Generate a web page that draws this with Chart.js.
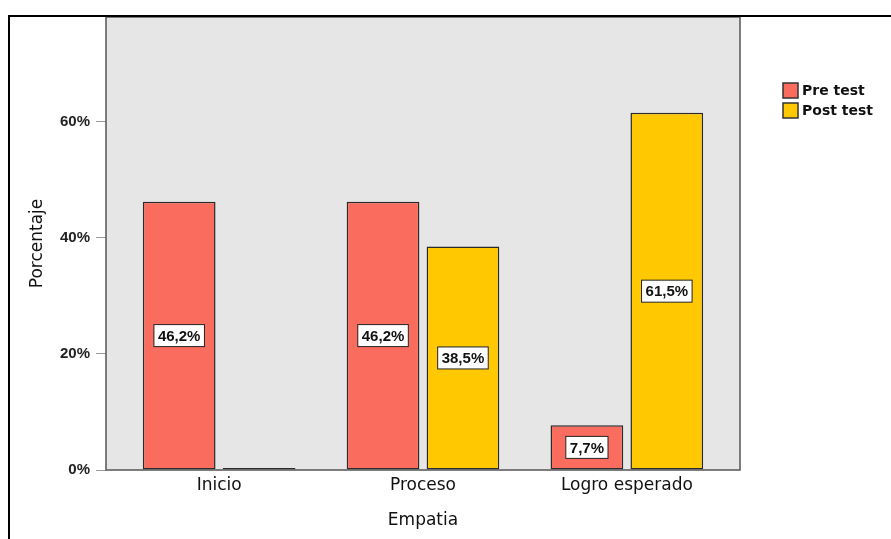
<!DOCTYPE html>
<html>
<head>
<meta charset="utf-8">
<script src="https://cdn.jsdelivr.net/npm/chart.js@4"></script>
<style>
  body { margin: 0; background: #fff; }
  #wrap { width: 891px; height: 539px; }
</style>
</head>
<body>
<div id="wrap"><canvas id="empatiaChart" width="891" height="539"></canvas></div>
<script>
const categories = ['Inicio', 'Proceso', 'Logro esperado'];
const preTest = [46.2, 46.2, 7.7];
const postTest = [0, 38.5, 61.5];
const yTicks = [0, 20, 40, 60];

const preColor = '#fa6c5e';
const postColor = '#ffc800';
const sans = '"DejaVu Sans", Verdana, sans-serif';
const arial = '"Liberation Sans", Arial, sans-serif';

const toPoints = arr => arr.map((v, i) => ({ x: i, y: v }));

// outer frame, grey plot box, value labels and legend
const decor = {
    id: 'decor',
    beforeDatasetsDraw(chart) {
        const { ctx, chartArea: a } = chart;
        ctx.save();
        ctx.fillStyle = '#e6e6e6';
        ctx.fillRect(a.left, a.top, a.right - a.left, a.bottom - a.top);
        ctx.restore();
    },
    afterDraw(chart) {
        const { ctx, chartArea: a } = chart;
        ctx.save();
        // plot border
        ctx.strokeStyle = '#555';
        ctx.lineWidth = 1.5;
        ctx.strokeRect(a.left, a.top, a.right - a.left, a.bottom - a.top);
        // outer frame (cropped)
        ctx.strokeStyle = '#000';
        ctx.lineWidth = 2;
        ctx.beginPath();
        ctx.moveTo(9, 539);
        ctx.lineTo(9, 16);
        ctx.lineTo(891, 16);
        ctx.stroke();

        // value labels
        ctx.font = 'bold 15px ' + arial;
        ctx.textAlign = 'center';
        ctx.textBaseline = 'middle';
        chart.data.datasets.forEach((ds, di) => {
            chart.getDatasetMeta(di).data.forEach((bar, i) => {
                const v = ds.data[i].y;
                if (!v) return;
                const txt = v.toFixed(1).replace('.', ',') + '%';
                const cy = (bar.y + bar.base) / 2;
                const w = ctx.measureText(txt).width + 8;
                const h = 22;
                ctx.fillStyle = '#fff';
                ctx.fillRect(bar.x - w / 2, cy - h / 2, w, h);
                ctx.strokeStyle = '#222';
                ctx.lineWidth = 1;
                ctx.strokeRect(bar.x - w / 2, cy - h / 2, w, h);
                ctx.fillStyle = '#111';
                ctx.fillText(txt, bar.x, cy + 1);
            });
        });

        // legend
        ctx.textAlign = 'left';
        ctx.font = 'bold 14px ' + sans;
        chart.data.datasets.forEach((ds, di) => {
            const y = 83 + di * 20;
            ctx.fillStyle = ds.backgroundColor;
            ctx.fillRect(783, y, 15, 15);
            ctx.strokeStyle = '#333';
            ctx.lineWidth = 1.5;
            ctx.strokeRect(783, y, 15, 15);
            ctx.fillStyle = '#111';
            ctx.fillText(ds.label, 802, y + 8);
        });
        ctx.restore();
    }
};

const barStyle = {
    borderColor: '#2a2a2a',
    borderWidth: 1.5,
    borderSkipped: false,
    minBarLength: 2,
    barPercentage: 0.91,
    categoryPercentage: 0.784
};

const config = {
    type: 'bar',
    data: {
        datasets: [
            Object.assign({ label: 'Pre test', data: toPoints(preTest), backgroundColor: preColor }, barStyle),
            Object.assign({ label: 'Post test', data: toPoints(postTest), backgroundColor: postColor }, barStyle)
        ]
    },
    options: {
        responsive: false,
        animation: false,
        layout: { padding: { top: 17, right: 151, left: 0, bottom: 0 } },
        plugins: {
            legend: { display: false },
            tooltip: { enabled: false }
        },
        scales: {
            x: {
                type: 'linear',
                offset: false,
                min: -0.555,
                max: 2.555,
                afterBuildTicks: s => { s.ticks = categories.map((c, i) => ({ value: i })); },
                afterFit: s => { s.height = 69; },
                grid: { display: false, drawTicks: false },
                border: { display: false },
                ticks: {
                    callback: v => categories[v],
                    color: '#111',
                    font: { family: sans, size: 17 },
                    padding: 5,
                    maxRotation: 0
                },
                title: {
                    display: true,
                    text: 'Empatia',
                    color: '#111',
                    font: { family: sans, size: 17 },
                    padding: { top: 4, bottom: 8 }
                }
            },
            y: {
                min: 0,
                max: 78,
                afterBuildTicks: s => { s.ticks = yTicks.map(v => ({ value: v })); },
                afterFit: s => { s.width = 106; },
                grid: { drawOnChartArea: false, tickLength: 10, color: '#999' },
                border: { display: false },
                ticks: {
                    callback: v => v + '%',
                    color: '#222',
                    font: { family: '"Liberation Sans Narrow", "Liberation Sans", Arial, sans-serif', size: 15, weight: 'bold' },
                    padding: 6
                },
                title: {
                    display: true,
                    text: 'Porcentaje',
                    color: '#111',
                    font: { family: sans, size: 17 },
                    padding: { top: 27, bottom: 0 }
                }
            }
        }
    },
    plugins: [decor]
};

const chart = new Chart(document.getElementById('empatiaChart'), config);
</script>
</body>
</html>
